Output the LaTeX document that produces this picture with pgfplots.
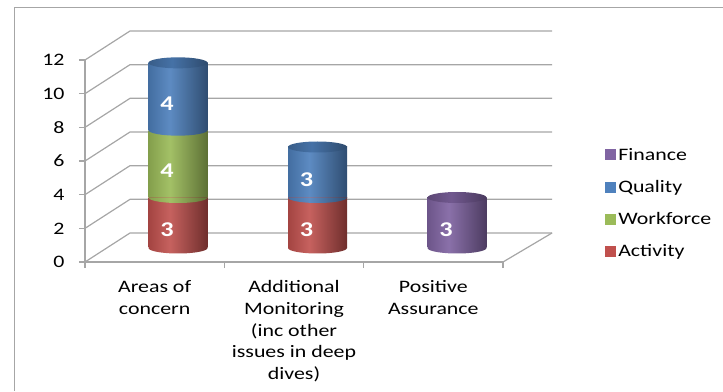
\documentclass[border=0pt]{standalone}
\usepackage{fontspec}
\setmainfont{Carlito}[FakeStretch=1.25]
\usepackage{pgfplots}
\pgfplotsset{compat=1.18}

\definecolor{gridc}{HTML}{A6A6A6}
\definecolor{actC}{HTML}{C0504D}
\definecolor{wfC}{HTML}{9BBB59}
\definecolor{quC}{HTML}{4F81BD}
\definecolor{fiC}{HTML}{8064A2}
% shading colours
\colorlet{actL}{actC!85!black}\colorlet{actM}{actC!90!white}\colorlet{actR}{actC!58!black}
\colorlet{wfL}{wfC!85!black}\colorlet{wfM}{wfC!92!white}\colorlet{wfR}{wfC!60!black}
\colorlet{quL}{quC!85!black}\colorlet{quM}{quC!92!white}\colorlet{quR}{quC!60!black}
\colorlet{fiL}{fiC!85!black}\colorlet{fiM}{fiC!92!white}\colorlet{fiR}{fiC!60!black}
\colorlet{quTL}{quC!72!black}\colorlet{quTM}{quC!88!black}\colorlet{quTR}{quC!58!black}
\colorlet{fiTL}{fiC!72!black}\colorlet{fiTM}{fiC!88!black}\colorlet{fiTR}{fiC!58!black}

\pgfdeclarehorizontalshading{actS}{100bp}{color(0bp)=(actL); color(25bp)=(actL); color(43bp)=(actM); color(75bp)=(actR); color(100bp)=(actR)}
\pgfdeclarehorizontalshading{wfS}{100bp}{color(0bp)=(wfL); color(25bp)=(wfL); color(43bp)=(wfM); color(75bp)=(wfR); color(100bp)=(wfR)}
\pgfdeclarehorizontalshading{quS}{100bp}{color(0bp)=(quL); color(25bp)=(quL); color(43bp)=(quM); color(75bp)=(quR); color(100bp)=(quR)}
\pgfdeclarehorizontalshading{fiS}{100bp}{color(0bp)=(fiL); color(25bp)=(fiL); color(43bp)=(fiM); color(75bp)=(fiR); color(100bp)=(fiR)}
\pgfdeclarehorizontalshading{quT}{100bp}{color(0bp)=(quTL); color(25bp)=(quTL); color(45bp)=(quTM); color(75bp)=(quTR); color(100bp)=(quTR)}
\pgfdeclarehorizontalshading{fiT}{100bp}{color(0bp)=(fiTL); color(25bp)=(fiTL); color(45bp)=(fiTM); color(75bp)=(fiTR); color(100bp)=(fiTR)}

% half ellipse (bottom of a segment) and full ellipse (top of a stack)
\newcommand\halfell[1]{%
  \pgfpathmoveto{\pgfpoint{-29.5pt}{0pt}}%
  \pgfpatharc{180}{360}{29.5pt and 5.5pt}%
  \pgfpathclose
  \pgfshadepath{#1}{0}%
  \pgfusepath{}}
\newcommand\fullell[1]{%
  \pgfpathellipse{\pgfpointorigin}{\pgfpoint{29.5pt}{0pt}}{\pgfpoint{0pt}{5.5pt}}%
  \pgfshadepath{#1}{0}%
  \pgfusepath{}}
\pgfdeclareplotmark{actbot}{\halfell{actS}}
\pgfdeclareplotmark{wfbot}{\halfell{wfS}}
\pgfdeclareplotmark{qubot}{\halfell{quS}}
\pgfdeclareplotmark{fibot}{\halfell{fiS}}
\pgfdeclareplotmark{qutop}{\fullell{quT}}
\pgfdeclareplotmark{fitop}{\fullell{fiT}}

\newcommand\legsq[1]{\pgfsetfillcolor{#1}\pgfpathrectangle{\pgfpoint{0pt}{-5.5pt}}{\pgfpoint{11pt}{11pt}}\pgfusepath{fill}}

\pgfplotsset{
  cylaxis/.style={
    at={(108.25pt,143pt)}, anchor=south west,
    scale only axis, width=418.5pt, height=202pt,
    xmin=0, xmax=3, ymin=0, ymax=12,
    hide axis, clip=false,
  },
  cylbars/.style={cylaxis, ybar stacked, bar width=59pt},
}

\begin{document}
\begin{tikzpicture}
\useasboundingbox (0,0) rectangle (723pt,391pt);
\draw[gridc, line width=1.5pt] (14.5pt,0pt) -- (14.5pt,383.5pt) -- (723pt,383.5pt);

% front plane axis with perspective walls
\begin{axis}[
  at={(85pt,129pt)}, anchor=south west,
  scale only axis, width=418pt, height=202pt,
  xmin=0, xmax=3, ymin=0, ymax=12,
  clip=false,
  axis lines*=left,
  axis line style={gridc, line width=1.2pt},
  tick style={gridc, line width=1.2pt},
  tick align=outside, major tick length=6pt,
  ytick={0,2,...,12},
  xtick={0,1,2,3}, xticklabels={},
  extra x ticks={0.5,1.5,2.5},
  extra x tick labels={Areas of\\concern, Additional\\Monitoring\\(inc other\\issues in deep\\dives), Positive\\Assurance},
  extra x tick style={major tick length=0pt, tick style={draw=none},
    tick label style={align=center, anchor=north, yshift=-15pt}},
  /pgf/number format/assume math mode=true,
  tick label style={font=\fontsize{17.5pt}{21.7pt}\selectfont, text=black},
  yticklabel style={xshift=-11pt},
]
\pgfplotsinvokeforeach{0,2,...,12}{
  \draw[gridc, line width=1.2pt] (axis cs:0,#1) -- ++(45pt,29pt) -- ++(422pt,0pt);
}
\draw[gridc, line width=1.2pt] (axis cs:3,0) -- ++(49pt,29pt);
\end{axis}

% cylinders: Areas of concern (one axis per category so that each cylinder is shaded by itself)
\begin{axis}[cylbars,
  legend cell align=left,
  legend style={at={(1.18,0.515)}, anchor=north west, draw=none, fill=none,
    font=\fontsize{17.5pt}{21.7pt}\selectfont, row sep=14.5pt,
    /tikz/every even column/.append style={column sep=7pt}},
]
\addlegendimage{legend image code/.code={\legsq{fiC}}}\addlegendentry{Finance}
\addlegendimage{legend image code/.code={\legsq{quC}}}\addlegendentry{Quality}
\addlegendimage{legend image code/.code={\legsq{wfC}}}\addlegendentry{Workforce}
\addlegendimage{legend image code/.code={\legsq{actC}}}\addlegendentry{Activity}
\addplot[draw=none, shade, shading=actS, forget plot] coordinates {(0.5,3)};
\addplot[draw=none, shade, shading=wfS, forget plot] coordinates {(0.5,4)};
\addplot[draw=none, shade, shading=quS, forget plot] coordinates {(0.5,4)};
\end{axis}

% cylinders: Additional Monitoring
\begin{axis}[cylbars]
\addplot[draw=none, shade, shading=actS] coordinates {(1.5,3)};
\addplot[draw=none, shade, shading=quS] coordinates {(1.5,3)};
\end{axis}

% cylinders: Positive Assurance
\begin{axis}[cylbars]
\addplot[draw=none, shade, shading=fiS] coordinates {(2.5,3)};
\end{axis}

% cylinder ends and value labels
\begin{axis}[cylaxis]
\addplot[only marks, mark=actbot] coordinates {(0.5,0) (1.5,0)};
\addplot[only marks, mark=wfbot] coordinates {(0.5,3)};
\addplot[only marks, mark=qubot] coordinates {(0.5,7) (1.5,3)};
\addplot[only marks, mark=fibot] coordinates {(2.5,0)};
\addplot[only marks, mark=qutop] coordinates {(0.5,11) (1.5,6)};
\addplot[only marks, mark=fitop] coordinates {(2.5,3)};
\addplot[draw=none, mark=none, nodes near coords, point meta=explicit symbolic,
  every node near coord/.append style={anchor=center, text=white,
    font=\fontsize{21pt}{24pt}\selectfont\bfseries, xshift=-11pt, yshift=-7pt}]
  coordinates {(0.5,1.5)[3] (0.5,5)[4] (0.5,9)[4] (1.5,1.5)[3] (1.5,4.5)[3] (2.5,1.5)[3]};
\end{axis}
\end{tikzpicture}
\end{document}
